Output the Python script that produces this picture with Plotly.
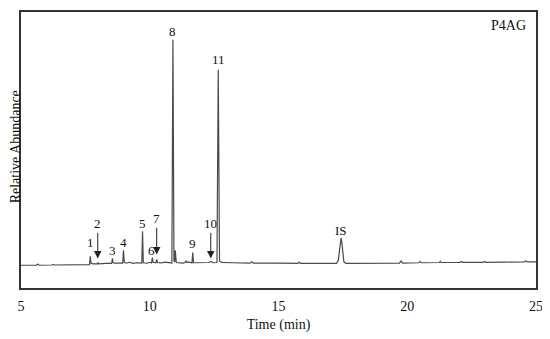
import plotly.graph_objects as go

# Chromatogram trace vertices (time in min, relative abundance)
time_min = [
    5.00, 5.60, 5.65, 5.70, 6.20, 6.25, 6.30, 7.00, 7.60,
    7.66, 7.69, 7.72, 7.80, 7.97, 7.99, 8.01, 8.30, 8.52, 8.55, 8.58, 8.65,
    8.95, 8.98, 9.01, 9.10, 9.20, 9.35, 9.50, 9.69, 9.72, 9.75, 9.90, 10.00,
    10.07, 10.10, 10.13, 10.24, 10.27, 10.30, 10.45, 10.60, 10.75,
    10.86, 10.90, 10.94, 10.97, 10.99, 11.03, 11.30, 11.38, 11.41, 11.44, 11.50,
    11.64, 11.67, 11.70, 12.00, 12.30, 12.38, 12.45,
    12.61, 12.66, 12.71, 12.80, 13.20, 13.90, 13.96, 14.02, 15.00, 15.75, 15.80, 15.85,
    16.60, 17.25, 17.32, 17.37, 17.40, 17.43, 17.46, 17.49, 17.54, 17.62,
    18.50, 19.70, 19.76, 19.82, 20.45, 20.50, 20.55, 21.25, 21.28, 21.31,
    22.05, 22.10, 22.15, 22.95, 23.00, 23.05, 23.80, 24.55, 24.60, 24.65, 25.00,
]
abundance = [
    0.0, 0.0, 0.5, 0.0, 0.1, 0.4, 0.1, 0.2, 0.2,
    0.3, 4.0, 0.9, 0.6, 0.6, 1.2, 0.6, 0.8, 0.8, 3.0, 1.1, 0.9,
    0.9, 6.6, 1.3, 0.9, 1.3, 0.8, 1.1, 0.9, 15.1, 1.1, 0.9, 1.3,
    1.0, 3.4, 1.3, 1.1, 2.6, 1.2, 1.0, 1.4, 1.0,
    1.0, 100.0, 2.0, 1.4, 6.6, 1.2, 0.9, 1.3, 2.0, 1.2, 1.5,
    1.0, 5.6, 1.1, 1.0, 1.2, 1.7, 1.1,
    1.2, 86.7, 1.8, 1.3, 1.1, 0.9, 1.5, 0.9, 0.9, 0.8, 1.4, 0.8,
    0.8, 0.8, 2.0, 7.5, 11.5, 12.2, 10.0, 5.0, 1.5, 0.8,
    0.8, 0.9, 1.9, 0.9, 1.1, 1.6, 1.1, 1.2, 1.7, 1.2,
    1.3, 1.7, 1.3, 1.3, 1.7, 1.3, 1.4, 1.5, 2.0, 1.5, 1.5,
]

# Plain peak labels
label_text = ["1", "3", "4", "5", "6", "8", "9", "11", "IS"]
label_time = [7.69, 8.55, 8.98, 9.72, 10.08, 10.90, 11.67, 12.66, 17.43]
label_value = [9.9, 6.6, 9.9, 18.6, 6.4, 103.8, 9.7, 91.3, 15.6]

# Arrow-marked peaks: label position and arrow tip
arrow_text = ["2", "7", "10"]
arrow_time = [7.98, 10.27, 12.37]
arrow_label_value = [18.3, 20.6, 18.3]
arrow_tip_value = [3.0, 4.8, 3.0]

x_ticks = [5, 10, 15, 20, 25]

serif = "Liberation Serif, Times New Roman, serif"
ink = "#111111"

fig = go.Figure()
fig.add_trace(go.Scatter(
    x=time_min, y=abundance, mode="lines",
    line=dict(color="#4a4a4a", width=1.2),
    hoverinfo="skip", showlegend=False,
))

for t, v, s in zip(label_time, label_value, label_text):
    fig.add_annotation(x=t, y=v, text=s, showarrow=False,
                       font=dict(family=serif, size=13, color=ink),
                       xanchor="center", yanchor="middle")

for t, lv, tv, s in zip(arrow_time, arrow_label_value, arrow_tip_value, arrow_text):
    fig.add_annotation(x=t, y=tv, ax=t, ay=lv, axref="x", ayref="y",
                       text=s, showarrow=True, arrowhead=2, arrowsize=1.5,
                       arrowwidth=1, arrowcolor="#222222", standoff=0,
                       font=dict(family=serif, size=13, color=ink))

fig.add_annotation(x=0.985, y=0.985, xref="paper", yref="paper", text="P4AG",
                   showarrow=False, xanchor="right", yanchor="top",
                   font=dict(family=serif, size=14, color=ink))

fig.add_annotation(x=-0.0115, y=0.51, xref="paper", yref="paper",
                   text="Relative Abundance", textangle=-90, showarrow=False,
                   xanchor="center", yanchor="middle",
                   font=dict(family=serif, size=14, color=ink))

fig.update_layout(
    width=542, height=331,
    margin=dict(l=13, r=14, t=2, b=51),
    paper_bgcolor="white", plot_bgcolor="white",
    font=dict(family=serif, size=14, color=ink),
    xaxis=dict(
        range=[5, 25], tickvals=x_ticks, ticktext=[str(v) for v in x_ticks],
        showgrid=False, zeroline=False, showline=True, mirror=True,
        linecolor="#333333", linewidth=1.5,
        ticks="outside", ticklen=4, tickcolor="rgba(0,0,0,0)",
        tickfont=dict(family=serif, size=14, color=ink),
        title=dict(text="Time (min)", standoff=7,
                   font=dict(family=serif, size=14, color=ink)),
    ),
    yaxis=dict(
        range=[-10.1, 112.3], showticklabels=False, ticks="",
        showgrid=False, zeroline=False, showline=True, mirror=True,
        linecolor="#333333", linewidth=1.5,
    ),
)

fig.write_html("out.html")
